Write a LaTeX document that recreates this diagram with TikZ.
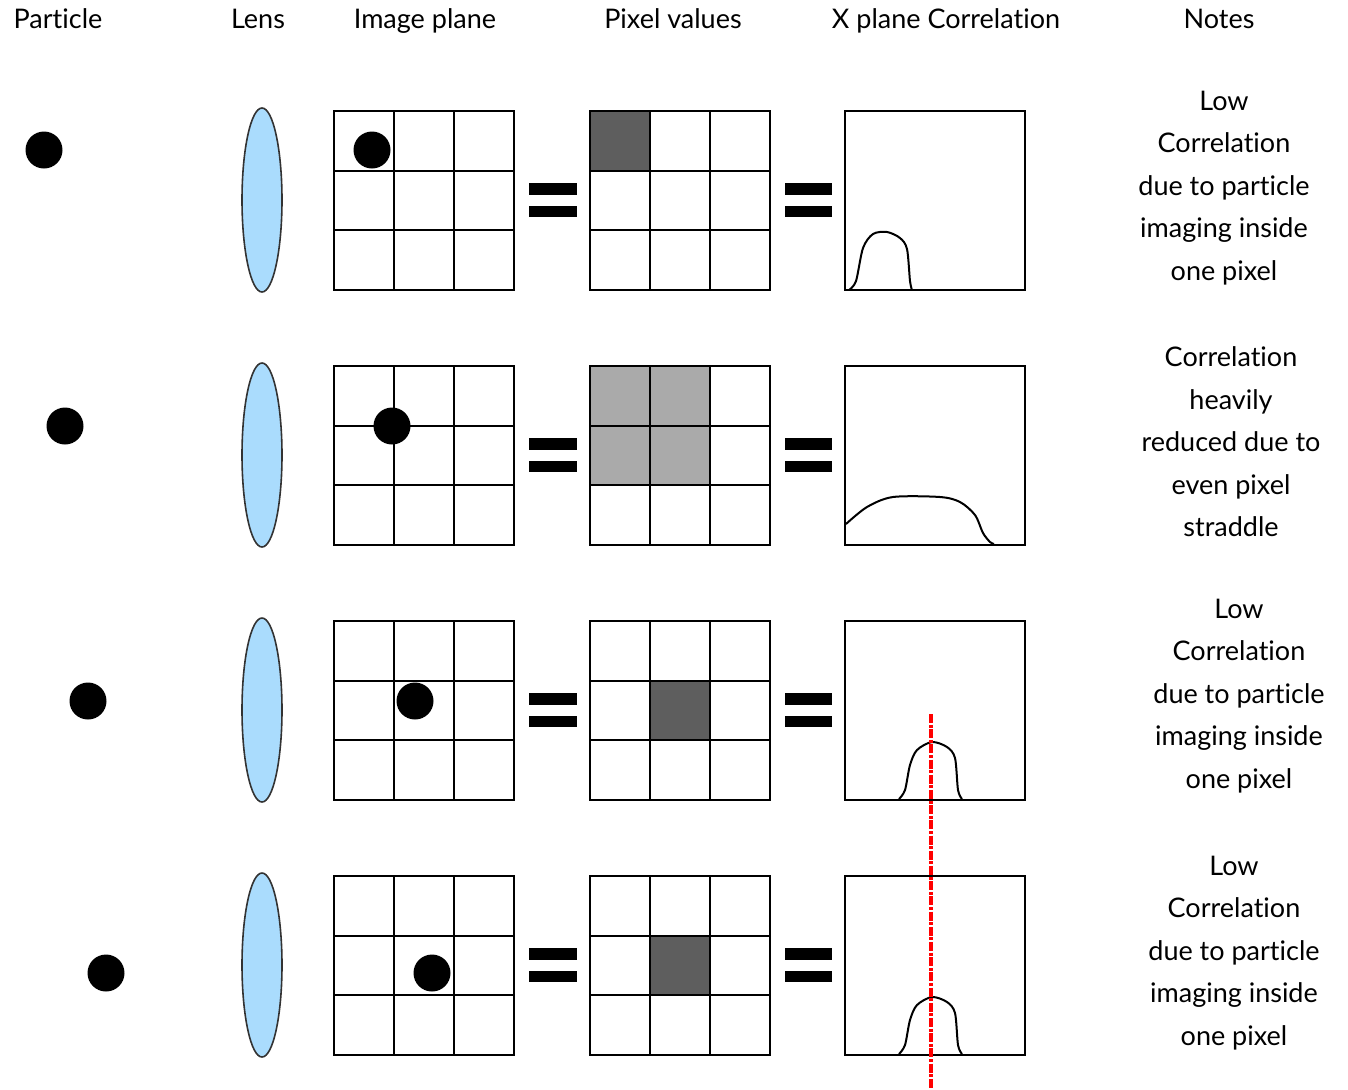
\documentclass[tikz,border=0pt]{standalone}
\usepackage{fontspec}
\setmainfont{Lato}[Ligatures={NoCommon}]
\begin{document}
\begin{tikzpicture}[x=0.5pt,y=-0.5pt,
  lbl/.style={inner sep=0pt,font=\fontsize{13.5}{21.25}\selectfont},
  head/.style={lbl,anchor=base},
  note/.style={lbl,align=center},
  gridln/.style={line width=1pt,black},
  dot/.style={fill=black},
  eqbar/.style={fill=black},
  lensst/.style={fill=lensblue,draw=black!80,line width=0.8pt},
  curve/.style={line width=1pt,black,line join=round},
  reddash/.style={red,line width=1.9pt,dash pattern=on 4.5pt off 0.8pt on 1.5pt off 0.8pt}
]
\definecolor{lensblue}{HTML}{AADCFD}
\definecolor{darkpix}{HTML}{5E5E5E}
\definecolor{lightpix}{HTML}{AAAAAA}
\useasboundingbox[fill=white] (0,0) rectangle (1348,1089);

% headers
\node[head] (hpart) at (58,28) {Particle};
\node[head] (hlens) at (258,28) {Lens};
\node[head] (himg) at (425,28) {Image plane};
\node[head] (hpix) at (673,28) {Pixel values};
\node[head] (hcorr) at (946,28) {X plane Correlation};
\node[head] (hnotes) at (1219,28) {Notes};

% pixel fills
\fill[darkpix] (590,111) rectangle (650,170.7);
\fill[lightpix] (590,366) rectangle (710,485.3);
\fill[darkpix] (650,680.7) rectangle (710,740.3);
\fill[darkpix] (650,935.7) rectangle (710,995.3);

\foreach \r/\t/\dy/\px/\ix in {1/111/150/44/372, 2/366/426/65/392, 3/621/701/88/415, 4/876/973/106/432}{
  % particle
  \fill[dot] (\px,\dy) circle (18.5);
  % lens
  \draw[lensst] (262,\t+89) ellipse (20 and 92);
  % image grid
  \draw[gridln] (334,\t) rectangle (514,\t+179);
  \draw[gridln] (394,\t) -- (394,\t+179) (454,\t) -- (454,\t+179)
     (334,\t+59.7) -- (514,\t+59.7) (334,\t+119.3) -- (514,\t+119.3);
  \fill[dot] (\ix,\dy) circle (18.5);
  % pixel grid
  \draw[gridln] (590,\t) rectangle (770,\t+179);
  \draw[gridln] (650,\t) -- (650,\t+179) (710,\t) -- (710,\t+179)
     (590,\t+59.7) -- (770,\t+59.7) (590,\t+119.3) -- (770,\t+119.3);
  % equals signs
  \fill[eqbar] (529,\t+72) rectangle (577,\t+84);
  \fill[eqbar] (529,\t+95) rectangle (577,\t+106);
  \fill[eqbar] (785,\t+72) rectangle (832,\t+84);
  \fill[eqbar] (785,\t+95) rectangle (832,\t+106);
  % correlation box
  \draw[gridln] (845,\t) rectangle (1025,\t+179);
}

% correlation curves
\draw[curve] plot[smooth,tension=0.5] coordinates {(849,290) (856,281) (863,248) (873,234) (887,232) (900,238) (907,249) (910,281) (912,290)};
\draw[curve] plot[smooth,tension=0.5] coordinates {(846,524) (867,507) (893,497) (940,497) (960,502) (975,515) (983,533) (990,542) (994,544)};
\draw[curve] plot[smooth,tension=0.5] coordinates {(899,799) (905,790) (910,765) (917,750) (932,742) (947,747) (955,758) (958,790) (962,799)};
\draw[curve] plot[smooth,tension=0.5] coordinates {(899,1054) (905,1045) (910,1020) (917,1005) (932,997) (947,1002) (955,1013) (958,1045) (962,1054)};

% red dashed line
\coordinate (rtop) at (931,714);
\coordinate (rbot) at (931,1089);
\draw[reddash] (rtop) -- (rbot);

% notes
\node[note] (n1) at (1224,188) {Low\\Correlation\\due to particle\\imaging inside\\one pixel};
\node[note] (n2) at (1231,442) {Correlation\\heavily\\reduced due to\\even pixel\\straddle};
\node[note] (n3) at (1239,696) {Low\\Correlation\\due to particle\\imaging inside\\one pixel};
\node[note] (n4) at (1234,953) {Low\\Correlation\\due to particle\\imaging inside\\one pixel};
\end{tikzpicture}
\end{document}
